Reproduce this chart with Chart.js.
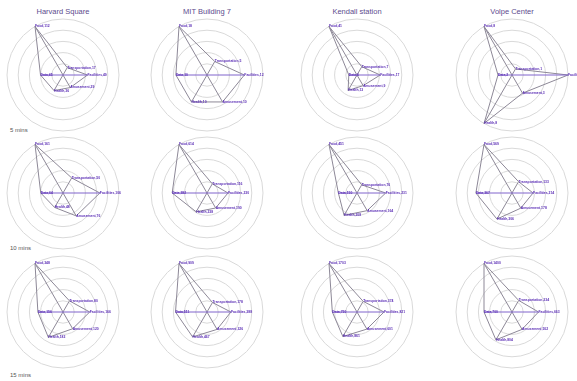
<!DOCTYPE html>
<html>
<head>
<meta charset="utf-8">
<script src="https://cdn.jsdelivr.net/npm/chart.js@4/dist/chart.umd.min.js"></script>
<style>
	body { margin: 0; width: 577px; height: 381px; overflow: hidden; background: #fff; position: relative; font-family: "Liberation Sans", Arial, sans-serif; }
	canvas { position: absolute; }
	.title { position: absolute; width: 140px; text-align: center; font-size: 7.5px; line-height: 9px; color: #5d4b8e; }
	.row { position: absolute; left: 10px; font-size: 6px; line-height: 8px; color: #555; }
</style>
</head>
<body>
<script>
// Axis order, clockwise from the right-hand spoke
const categories = [ 'Facilities', 'Amusement', 'Health', 'Data', 'Food', 'Transportation' ];
const locations = [ 'Harvard Square', 'MIT Building 7', 'Kendall station', 'Volpe Center' ];
const times = [ '5 mins', '10 mins', '15 mins' ];

// Counts per category (same order as categories)
const harvard5 = [ 49, 29, 36, 45, 112, 17 ];
const mit5 = [ 12, 10, 10, 10, 18, 5 ];
const kendall5 = [ 17, 9, 13, 6, 41, 7 ];
const volpe5 = [ 8, 3, 8, 2, 8, 1 ];

const harvard10 = [ 106, 76, 48, 64, 161, 50 ];
const mit10 = [ 230, 190, 238, 382, 614, 116 ];
const kendall10 = [ 231, 164, 208, 150, 451, 76 ];
const volpe10 = [ 214, 178, 306, 367, 569, 133 ];

const harvard15 = [ 166, 120, 182, 156, 348, 80 ];
const mit15 = [ 388, 326, 467, 511, 909, 178 ];
const kendall15 = [ 821, 601, 861, 750, 1703, 374 ];
const volpe15 = [ 663, 502, 804, 700, 1400, 334 ];

const grid = [
	[ harvard5, mit5, kendall5, volpe5 ],
	[ harvard10, mit10, kendall10, volpe10 ],
	[ harvard15, mit15, kendall15, volpe15 ]
];

// layout
const colX = [ 63, 207, 357, 512 ];
const rowY = [ 75, 193, 312 ];
const rowLabelY = [ 126, 244, 371 ];
const W = 146, H = 120;

// lines between opposite spokes + value labels on every point
const spokeLabels = {
	id: 'spokeLabels',
	afterDatasetsDraw: function ( chart ) {
		const pts = chart.getDatasetMeta( 0 ).data;
		const values = chart.data.datasets[ 0 ].data;
		const ctx = chart.ctx;
		ctx.save();
		ctx.lineWidth = 1;
		[ [ 1, 4, '#8d8897' ], [ 2, 5, '#8d8897' ], [ 0, 3, '#8064cc' ] ].forEach( function ( l ) {
			ctx.strokeStyle = l[ 2 ];
			ctx.beginPath();
			ctx.moveTo( pts[ l[ 0 ] ].x, pts[ l[ 0 ] ].y );
			ctx.lineTo( pts[ l[ 1 ] ].x, pts[ l[ 1 ] ].y );
			ctx.stroke();
		} );
		ctx.font = 'bold 3.4px "Liberation Sans", Arial, sans-serif';
		ctx.fillStyle = '#5a2db5';
		ctx.textAlign = 'left';
		ctx.textBaseline = 'middle';
		pts.forEach( function ( p, i ) {
			ctx.fillText( categories[ i ] + ',' + values[ i ], p.x, p.y );
		} );
		ctx.restore();
	}
};

locations.forEach( function ( name, c ) {
	const t = document.createElement( 'div' );
	t.className = 'title';
	t.textContent = name;
	t.style.left = ( colX[ c ] - 70 ) + 'px';
	t.style.top = '7px';
	document.body.appendChild( t );
} );

times.forEach( function ( name, r ) {
	const t = document.createElement( 'div' );
	t.className = 'row';
	t.textContent = name;
	t.style.top = rowLabelY[ r ] + 'px';
	document.body.appendChild( t );
} );

grid.forEach( function ( row, r ) {
	row.forEach( function ( values, c ) {
		const canvas = document.createElement( 'canvas' );
		canvas.width = W;
		canvas.height = H;
		canvas.style.left = ( colX[ c ] - 73 ) + 'px';
		canvas.style.top = ( rowY[ r ] - 60 ) + 'px';
		document.body.appendChild( canvas );

		new Chart( canvas, {
			type: 'radar',
			data: {
				labels: categories,
				datasets: [ {
					data: values,
					borderColor: '#8d8897',
					borderWidth: 1,
					fill: false,
					tension: 0,
					pointRadius: 0
				} ]
			},
			options: {
				responsive: false,
				animation: false,
				layout: { padding: { left: 17, right: 17, top: 4, bottom: 4 } },
				plugins: {
					legend: { display: false },
					tooltip: { enabled: false }
				},
				scales: {
					r: {
						min: 0,
						max: Math.max.apply( null, values ),
						startAngle: 90,
						angleLines: { display: false },
						pointLabels: { display: false },
						grid: { circular: true, color: '#d9d9d9', lineWidth: 1 },
						ticks: { display: false, count: 6 }
					}
				}
			},
			plugins: [ spokeLabels ]
		} );
	} );
} );
</script>
</body>
</html>
